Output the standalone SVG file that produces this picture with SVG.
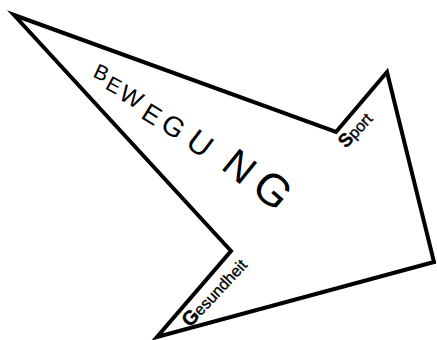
<svg xmlns="http://www.w3.org/2000/svg" width="437" height="340" viewBox="0 0 437 340">
<style>
.shape{fill:#fff;stroke:#000;stroke-width:4;stroke-linejoin:miter;stroke-miterlimit:10}
.bw{font-family:"Liberation Sans",Arial,sans-serif;fill:#000;text-anchor:middle}
.lbl{font-family:"Liberation Sans",Arial,sans-serif;fill:#000;stroke:#000;stroke-width:0.35}
.ini{font-weight:bold}
</style>
<rect width="437" height="340" fill="#fff"/>
<g id="arrow">
<polygon class="shape" points="14,15 336,132 387,72 434,262 157,337 231,251"/>
</g>
<g id="bewegung">
<text class="bw" transform="translate(101.5,72.5) rotate(25)" font-size="21" y="7.5">B</text>
<text class="bw" transform="translate(114,85) rotate(28)" font-size="21" y="7.5">E</text>
<text class="bw" transform="translate(131.5,96.5) rotate(30)" font-size="24" y="8.6">W</text>
<text class="bw" transform="translate(152,114) rotate(32)" font-size="26" y="9.3">E</text>
<text class="bw" transform="translate(173.5,126) rotate(34)" font-size="28" y="10">G</text>
<text class="bw" transform="translate(200.5,143) rotate(37)" font-size="32" y="11.5">U</text>
<text class="bw" transform="translate(240,166) rotate(39)" font-size="40" y="14.3">N</text>
<text class="bw" transform="translate(273.3,189.3) rotate(41)" font-size="45" y="16.1">G</text>
</g>
<g id="sport">
<text class="lbl" transform="translate(346,149) rotate(-47)" font-size="16"><tspan class="ini" font-size="19">S</tspan>port</text>
</g>
<g id="gesundheit">
<text class="lbl" transform="translate(190,328) rotate(-47)" font-size="16"><tspan class="ini" font-size="20">G</tspan>esundheit</text>
</g>
</svg>
